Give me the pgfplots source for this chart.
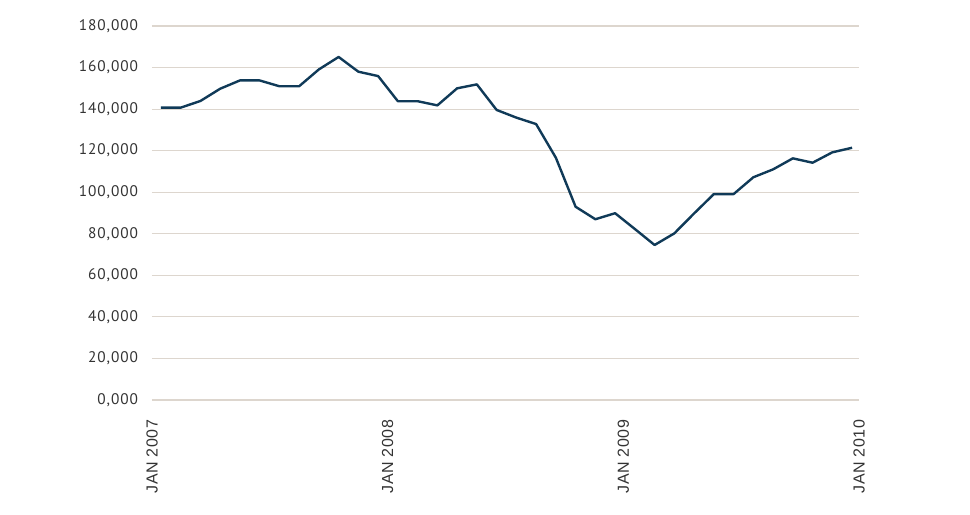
\documentclass[border=0pt]{standalone}
\usepackage{fontspec}
\setmainfont{Liberation Sans}
\newfontfamily\ylabfont[LetterSpace=6]{PT Sans}
\newfontfamily\xlabfont[LetterSpace=3]{Liberation Sans}
\usepackage{pgfplots}
\pgfplotsset{compat=1.18}
\definecolor{linec}{HTML}{103A58}
\definecolor{gridc}{HTML}{DDD6CE}
\definecolor{txt}{HTML}{333333}
\begin{document}
\begin{tikzpicture}
\useasboundingbox (-114pt,-85.5pt) rectangle (613.5pt,300pt);
\begin{axis}[
  at={(0,0)}, anchor=south west,
  scale only axis, width=530.25pt, height=280.5pt,
  xmin=-0.45, xmax=35.35, ymin=0, ymax=180000,
  axis line style={draw=none},
  major tick length=0pt,
  ytick={0,20000,40000,60000,80000,100000,120000,140000,160000,180000},
  yticklabels={{0,000},{20,000},{40,000},{60,000},{80,000},{100,000},{120,000},{140,000},{160,000},{180,000}},
  ymajorgrids,
  grid style={gridc, line width=0.9pt},
  xtick={-0.45,11.48,23.42,35.35},
  xticklabels={JAN 2007,JAN 2008,JAN 2009,JAN 2010},
  x tick label style={rotate=90, anchor=east, xshift=-11.5pt, font=\xlabfont\fontsize{12}{12}\selectfont, text=txt},
  y tick label style={anchor=east, xshift=-7pt, font=\ylabfont\fontsize{11.5}{12}\selectfont, text=txt},
  scaled y ticks=false,
  clip=false,
]
\addplot[linec, line width=1.8pt, line join=round, mark=none] coordinates {
(0,140.7e3) (1,140.7e3) (2,143.9e3) (3,149.8e3) (4,153.8e3) (5,153.8e3)
(6,151.0e3) (7,151.0e3) (8,159.1e3) (9,165.1e3) (10,158.0e3) (11,155.9e3)
(12,143.8e3) (13,143.8e3) (14,141.8e3) (15,150.0e3) (16,151.9e3) (17,139.6e3)
(18,135.9e3) (19,132.8e3) (20,116.6e3) (21,93.0e3) (22,87.0e3) (23,89.9e3)
(24,82.3e3) (25,74.6e3) (26,80.2e3) (27,89.8e3) (28,99.1e3) (29,99.1e3)
(30,107.2e3) (31,111.0e3) (32,116.3e3) (33,114.2e3) (34,119.2e3) (35,121.4e3)
};
\end{axis}
\end{tikzpicture}
\end{document}
